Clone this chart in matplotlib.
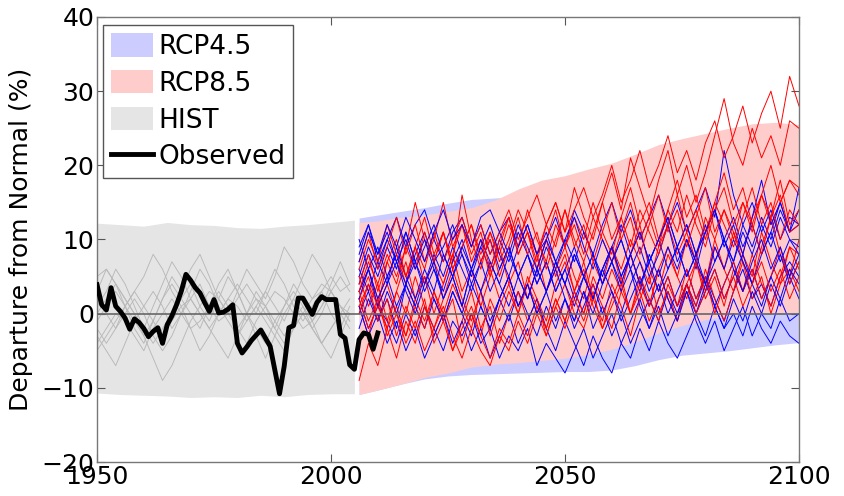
import numpy as np
import matplotlib
matplotlib.use("Agg")
import matplotlib.pyplot as plt
from matplotlib.patches import Patch
from matplotlib.lines import Line2D

# ---------------- data ----------------
obs_years = np.arange(1950, 2011)
observed = [3.9, 1.2, 0.5, 3.5, 1.0, 0.3, -0.6, -2.1, -0.7, -1.2,
            -2.0, -3.1, -2.4, -1.9, -4.0, -1.5, -0.3, 1.2, 3.0, 5.3,
            4.5, 3.5, 2.8, 1.5, 0.3, 1.9, 0.1, 0.2, 0.6, 1.2,
            -4.0, -5.3, -4.5, -3.6, -2.9, -2.2, -3.3, -4.4, -7.6, -10.8,
            -7.1, -1.9, -1.6, 2.1, 2.1, 1.0, -0.1, 1.5, 2.3, 1.9,
            1.9, 1.9, -2.8, -3.3, -6.9, -7.5, -3.5, -2.6, -2.8, -4.8, -2.6]

hist_band_years = [1950, 1955, 1960, 1965, 1970, 1975, 1980, 1985, 1990, 1995, 2000, 2005]
hist_top = [12.2, 12.0, 11.8, 12.3, 12.0, 11.9, 11.6, 11.5, 11.8, 12.0, 12.3, 12.6]
hist_bot = [-10.7, -10.9, -11.0, -11.1, -11.3, -11.2, -11.3, -11.0, -11.2, -10.9, -10.8, -10.8]

proj_band_years = [2006, 2010, 2015, 2020, 2025, 2030, 2035, 2040, 2045, 2050,
                   2055, 2060, 2065, 2070, 2075, 2080, 2085, 2090, 2095, 2100]
rcp85_top = [12.3, 12.5, 13.0, 13.3, 13.8, 14.3, 15.3, 16.8, 18.0, 18.6,
             19.5, 20.3, 21.5, 22.8, 23.6, 24.3, 25.0, 25.6, 25.8, 25.5]
rcp85_bot = [-10.9, -10.3, -9.5, -8.6, -8.0, -7.2, -6.8, -6.6, -6.3, -6.0,
             -5.5, -4.8, -3.8, -2.6, -1.6, -0.8, -0.2, 0.1, 0.1, 0.2]
rcp45_top = [12.9, 13.3, 13.8, 14.3, 14.9, 15.4, 15.6, 15.8, 16.2, 16.8,
             17.5, 18.0, 18.5, 19.0, 19.5, 20.0, 20.5, 21.0, 21.5, 22.0]
rcp45_bot = [-10.9, -10.3, -9.5, -8.8, -8.4, -8.2, -8.1, -8.0, -7.9, -7.8,
             -7.8, -7.6, -7.0, -6.2, -5.6, -5.3, -5.0, -4.6, -4.2, -3.9]

hist_years = np.arange(1950, 2005, 2)
hist_runs = [
    [2, 0, -2, 1, 3, 5, 8, 6, 3, 1, 2, 4, 1, -1, 0, 3, 6, 4, 2, 5, 9, 7, 4, 2, 3, 5, 3, 4],
    [-4, -2, 0, -1, -3, -5, -2, 0, 2, 0, -2, -1, 1, 3, 1, -2, -4, -1, 1, 3, 2, 0, -2, -1, 1, 3, 1, 0],
    [5, 6, 4, 2, 0, -3, -6, -9, -7, -4, -1, 1, 3, 2, 0, -2, 0, 2, 1, -2, -4, -2, 0, 2, 4, 3, 1, -1],
    [-1, 1, 3, 1, -2, -4, -1, 2, 4, 2, 0, -2, 1, 4, 6, 3, 0, -3, -6, -3, 0, 2, 0, -2, 0, 3, 5, 3],
    [0, 2, 4, 2, 0, -2, 1, 4, 7, 5, 2, 0, -2, 0, 2, 1, -1, 1, 3, 1, -1, 2, 5, 8, 6, 3, 1, -1],
    [-3, -5, -7, -4, -1, 1, 3, 1, -2, 0, 3, 6, 4, 1, -1, -3, 0, 3, 1, -1, -3, -1, 1, -2, -4, -6, -3, 0],
    [3, 6, 4, 1, -1, -3, -1, 2, 5, 3, 6, 8, 5, 2, 0, 2, 4, 2, 0, -2, 1, 4, 2, -1, -4, -2, 0, 2],
    [-5, -3, -1, 1, 3, 1, -1, -3, -1, 1, -2, -5, -3, 0, 2, 4, 2, 0, 3, 6, 4, 1, -1, 1, 3, 0, -2, 1],
    [1, 3, 6, 4, 1, -2, -4, -2, 0, 2, 4, 1, -1, 2, 5, 3, 0, -2, -4, -1, 1, 3, 1, -1, 1, 4, 7, 4],
    [-2, -4, -2, 0, 2, 0, -3, -5, -3, 0, 2, 0, -2, -4, -6, -3, -1, 1, -1, -3, -5, -2, 0, -2, -4, -2, 0, -2],
]

proj_years = np.arange(2006, 2101, 2)
rcp85_runs = [
    [3, 6, 2, 5, 8, 4, 9, 6, 11, 7, 10, 13, 9, 12, 8, 11, 14, 10, 13, 16, 12, 15, 11, 14,
     17, 13, 16, 20, 15, 18, 22, 17, 20, 24, 19, 22, 18, 23, 26, 21, 24, 28, 23, 27, 30, 25, 32, 28],
    [2, 5, 1, 7, 4, 9, 15, 10, 7, 11, 6, 9, 12, 8, 11, 7, 10, 14, 11, 8, 12, 15, 11, 17,
     13, 10, 15, 19, 14, 21, 17, 13, 18, 22, 16, 20, 15, 19, 24, 29, 23, 20, 25, 21, 24, 20, 26, 25],
    [-9, -4, -7, -2, 1, -3, 2, -1, 3, 0, 4, 1, -2, 3, 6, 2, 5, 1, 4, 8, 3, 6, 9, 5,
     2, 7, 4, 9, 6, 10, 7, 4, 9, 12, 8, 11, 7, 13, 10, 14, 11, 8, 13, 16, 12, 15, 18, 16],
    [5, 1, 4, -1, 3, 7, 2, 5, 0, 4, 8, 3, 6, 1, 5, 9, 4, 7, 2, 6, 10, 5, 8, 3,
     7, 2, 6, 9, 4, 8, 12, 6, 3, 8, 5, 10, 7, 3, 9, 6, 11, 7, 4, 9, 13, 8, 5, 10],
    [1, -3, 2, -2, -6, -1, -4, 1, -3, 0, -5, -1, 3, -2, 1, -4, 0, 3, -1, 2, -3, 1, 4, 0,
     -2, 2, -1, 4, 1, -3, 2, 5, 0, 3, -1, 4, 1, 6, 2, -1, 3, 7, 2, 5, 0, 4, 6, 3],
    [3, 7, 4, 8, 5, 9, 6, 11, 7, 4, 8, 12, 7, 10, 5, 9, 13, 8, 11, 6, 10, 14, 9, 12,
     8, 13, 10, 7, 11, 15, 10, 13, 9, 14, 11, 16, 12, 9, 14, 17, 12, 15, 11, 16, 13, 18, 12, 14],
    [0, 4, 1, -2, 3, 0, 5, 1, -2, 2, 6, 2, -1, 3, -3, 1, 4, 0, 5, 2, -1, 4, 7, 3,
     0, 5, 2, 6, 3, 8, 4, 1, 6, 9, 5, 2, 7, 4, 10, 6, 3, 8, 5, 11, 7, 4, 9, 8],
    [6, 10, 7, 12, 8, 5, 9, 13, 8, 11, 7, 16, 10, 6, 11, 8, 12, 9, 14, 10, 7, 12, 9, 13,
     10, 15, 11, 8, 13, 17, 12, 15, 10, 14, 18, 13, 16, 11, 15, 19, 14, 17, 12, 16, 20, 15, 18, 17],
    [2, -2, 1, 4, 0, -3, 1, -2, 3, -1, 2, -4, 0, -3, 2, -1, 3, 0, 4, 1, -2, 2, -1, 3,
     6, 1, -2, 2, 5, 0, 4, 1, 6, 2, -1, 4, 7, 2, 5, 1, 6, 3, 8, 4, 1, 5, 9, 6],
    [4, 8, 3, 7, 10, 5, 9, 4, 7, 11, 6, 9, 12, 7, 10, 5, 9, 13, 8, 11, 6, 10, 14, 9,
     12, 7, 11, 15, 10, 13, 8, 12, 16, 11, 14, 9, 13, 17, 11, 14, 10, 15, 12, 8, 13, 16, 11, 12],
    [1, 4, -1, 2, -3, 1, -2, 2, -4, -1, -5, -2, 1, -3, -6, -2, -4, 0, -3, 1, -2, 2, -1, 3,
     0, 4, 1, -2, 3, 0, 5, 2, -1, 4, 1, 6, 2, 5, 0, 4, 7, 3, 6, 2, 5, 9, 4, 7],
    [7, 11, 6, 9, 13, 8, 12, 7, 10, 15, 9, 12, 8, 11, 6, 10, 13, 8, 11, 7, 12, 9, 14, 10,
     7, 11, 15, 10, 13, 9, 14, 11, 8, 12, 16, 11, 14, 10, 15, 12, 9, 13, 17, 12, 15, 10, 14, 12],
    [3, -1, 2, -3, 0, -4, -1, -5, -2, 1, -3, -6, -2, -5, -7, -3, -5, -1, -4, 0, -3, 1, -2, 2,
     -1, 3, -2, 1, 4, 0, 3, -1, 2, 5, 1, 4, 0, 3, 6, 2, 5, 1, 4, 7, 3, 6, 2, 5],
]
rcp45_runs = [
    [8, 12, 7, 10, 13, 9, 12, 14, 10, 7, 11, 13, 9, 12, 8, 11, 13, 9, 12, 8, 10, 13, 9, 14,
     11, 8, 12, 15, 11, 14, 10, 13, 16, 12, 15, 11, 14, 17, 13, 22, 16, 12, 15, 11, 14, 10, 13, 12],
    [2, -2, 1, -1, -4, 0, -3, 1, -2, -5, -1, -3, 0, -4, -2, -6, -3, -5, -2, -7, -4, -6, -8, -5,
     -2, -6, -3, 0, -4, -1, 2, -2, 1, -3, 0, 3, -1, -4, -1, -5, -2, 1, -3, 0, -2, 2, -1, 0],
    [5, 9, 6, 10, 7, 4, 8, 11, 7, 9, 12, 8, 5, 9, 6, 10, 7, 11, 8, 5, 9, 6, 10, 7,
     11, 8, 5, 9, 12, 8, 11, 7, 10, 13, 9, 12, 8, 11, 14, 10, 7, 12, 9, 13, 10, 14, 11, 12],
    [0, 3, -1, 2, -2, 4, 1, 5, 2, -1, 3, 0, 4, 1, -2, 2, -1, 3, 0, -3, 1, -2, 2, -1,
     3, -2, 1, -3, 0, -4, -1, 2, -1, 3, 0, 4, 1, 5, 2, -1, 3, 6, 2, 4, 1, 5, 7, 5],
    [10, 6, 9, 5, 8, 11, 7, 4, 8, 5, 9, 6, 3, 7, 10, 6, 9, 5, 2, 6, 3, 7, 4, 8,
     5, 2, 6, 9, 5, 8, 4, 7, 10, 6, 9, 5, 8, 12, 7, 10, 13, 9, 12, 8, 11, 15, 11, 14],
    [3, 6, 2, 5, 1, 4, 7, 3, 6, 2, 5, 8, 4, 7, 3, 6, 9, 5, 8, 4, 7, 3, 6, 9,
     5, 8, 4, 7, 10, 6, 9, 5, 8, 12, 7, 10, 6, 11, 14, 9, 12, 8, 13, 18, 12, 15, 11, 17],
    [1, -3, 0, -4, -1, -5, -2, -6, -3, 0, -4, -1, -5, -2, -6, -3, 0, -4, -1, 2, -2, -5, -1, -4,
     -7, -3, -6, -8, -4, -6, -2, -5, -1, -4, -6, -3, 0, -3, 1, -2, 0, -3, 1, -2, -4, -1, -3, -4],
    [6, 3, 7, 4, 9, 5, 2, 6, 3, 8, 5, 1, 6, 3, 7, 4, 1, 5, 8, 4, 7, 3, 6, 2,
     5, 8, 4, 7, 10, 6, 3, 8, 5, 9, 6, 10, 7, 4, 9, 6, 10, 7, 4, 8, 11, 7, 10, 9],
    [-2, 2, -1, 3, 0, 4, 1, -2, 2, -1, 3, 0, -3, 1, -2, 2, 5, 1, 4, 0, 3, -1, 2, -2,
     1, 4, 0, 3, -1, 2, 5, 1, 4, 0, 3, 6, 2, 5, 1, 4, 7, 3, 6, 2, 5, 8, 4, 7],
    [4, 8, 5, 9, 6, 11, 7, 10, 6, 3, 7, 10, 6, 9, 12, 8, 5, 9, 12, 8, 11, 7, 10, 13,
     9, 6, 10, 7, 4, 8, 11, 7, 10, 13, 9, 12, 8, 11, 14, 10, 7, 11, 8, 12, 9, 13, 10, 8],
    [9, 12, 8, 11, 7, 10, 6, 9, 12, 8, 5, 9, 6, 10, 7, 4, 8, 5, 2, 6, 3, 7, 4, 1,
     5, 2, 6, 3, 0, 4, 7, 3, 6, 2, -1, 3, 0, 4, 1, -2, 2, -1, 3, 0, 4, 1, 5, 2],
    [2, 6, 1, 4, 7, 3, 0, 4, 7, 2, 5, 1, 6, 3, -1, 2, 5, 1, 4, 0, 3, 6, 2, -1,
     3, 0, 4, 7, 3, 6, 1, -2, 2, 5, 1, 4, 0, 3, 6, 2, 5, 8, 4, 1, 5, 2, 6, 4],
    [7, 11, 8, 12, 9, 13, 10, 7, 11, 14, 10, 12, 9, 13, 14, 11, 8, 12, 9, 6, 10, 7, 4, 8,
     5, 2, 6, 9, 5, 8, 4, 7, 3, 6, 9, 5, 8, 4, 7, 10, 6, 3, 7, 10, 6, 9, 5, 8],
]

legend_labels = ["RCP4.5", "RCP8.5", "HIST", "Observed"]
ylabel_text = "Departure from Normal (%)"
xticks = [1950, 2000, 2050, 2100]
yticks = [-20, -10, 0, 10, 20, 30, 40]

# ---------------- colours ----------------
c_blue_fill = "#ccccff"
c_red_fill = "#ffcccc"
c_gray_fill = "#e5e5e5"

plt.rcParams["font.family"] = ["DejaVu Sans"]

fig = plt.figure(figsize=(8.45, 4.96), dpi=100)
ax = fig.add_axes([97 / 845, 34 / 496, 702 / 845, 445 / 496])

ax.fill_between(hist_band_years, hist_bot, hist_top, color=c_gray_fill, lw=0, zorder=1)
ax.fill_between(proj_band_years, rcp45_bot, rcp45_top, color=c_blue_fill, lw=0, zorder=1)
ax.fill_between(proj_band_years, rcp85_bot, rcp85_top, color=c_red_fill, lw=0, zorder=1.1)

for run in hist_runs:
    ax.plot(hist_years, run, color="#b8b8b8", lw=0.65, zorder=2)

for r85, r45 in zip(rcp85_runs, rcp45_runs):
    ax.plot(proj_years, r45, color="#0000ff", lw=0.7, zorder=2)
    ax.plot(proj_years, r85, color="#ff0000", lw=0.7, zorder=2)

ax.axhline(0, color="#666666", lw=1.2, zorder=3)
ax.plot(obs_years, observed, color="black", lw=3.5, zorder=4)

ax.set_xlim(1950, 2100)
ax.set_ylim(-20, 40)
ax.set_xticks(xticks)
ax.set_yticks(yticks)
ax.tick_params(direction="in", length=6, width=0.8, color="#555555",
               top=True, right=True, labelsize=18, pad=2)
for sp in ax.spines.values():
    sp.set_color("#777777")
    sp.set_linewidth(1.0)
ax.set_ylabel(ylabel_text, fontsize=18, labelpad=6)

handles = [Patch(facecolor=c_blue_fill, edgecolor="none"),
           Patch(facecolor=c_red_fill, edgecolor="none"),
           Patch(facecolor=c_gray_fill, edgecolor="none"),
           Line2D([0], [0], color="black", lw=3.5)]
leg = ax.legend(handles, legend_labels, loc="upper left",
                bbox_to_anchor=(6 / 702, 1 - 8 / 445), borderaxespad=0,
                fontsize=19, handlelength=1.6, handleheight=1.0,
                handletextpad=0.2, labelspacing=0.38, borderpad=0.3,
                fancybox=False, framealpha=1, edgecolor="#555555")
leg.get_frame().set_linewidth(1.0)
leg.set_zorder(10)

fig.savefig("out.png", dpi=100)
